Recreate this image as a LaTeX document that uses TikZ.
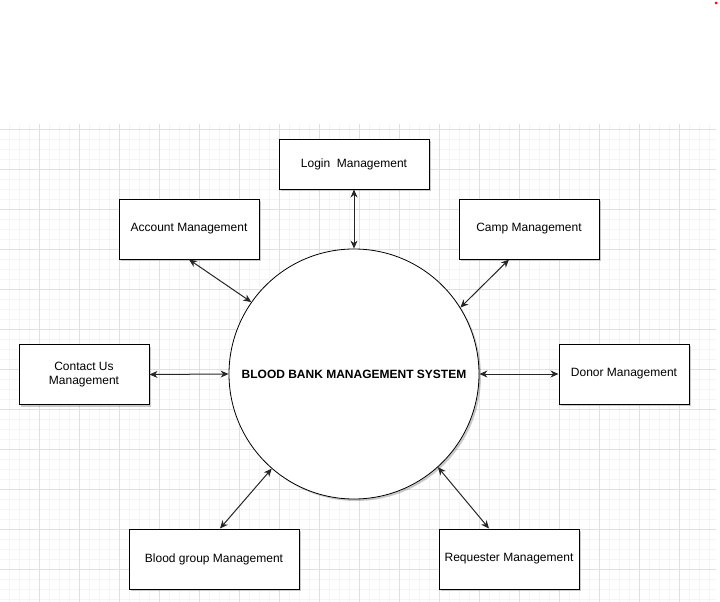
\documentclass[tikz,border=0pt]{standalone}
\usepackage{fontspec}
\setmainfont{Liberation Sans}
\usetikzlibrary{arrows.meta,shadows}
\definecolor{gridminor}{HTML}{F5F5F5}
\definecolor{gridmajor}{HTML}{E0E0E0}
\tikzset{
	module/.style={draw, line width=1pt, fill=white, align=center, inner sep=2pt,
		font=\fontsize{12}{14}\selectfont,
		drop shadow={shadow xshift=2pt, shadow yshift=-2pt, opacity=0.35, fill=black!60}},
	link/.style={line width=1pt, black!85, {Stealth[length=8pt,width=7pt,inset=2.5pt]}-{Stealth[length=8pt,width=7pt,inset=2.5pt]}}
}
\begin{document}
\begin{tikzpicture}[x=1pt, y=-1pt]
			\useasboundingbox (0, 0) rectangle (720, 602);
			%%%%% GRID %%%%%
			\foreach \gx in {9.5, 19.5, ..., 709.5}
				\draw[gridminor, line width=1pt] (\gx, 124) -- (\gx, 602);
			\foreach \gy in {129.5, 139.5, ..., 599.5}
				\draw[gridminor, line width=1pt] (0, \gy) -- (716, \gy);
			\foreach \gx in {39.5, 79.5, ..., 679.5}
				\draw[gridmajor, line width=1pt] (\gx, 124) -- (\gx, 602);
			\foreach \gy in {129.5, 169.5, ..., 569.5}
				\draw[gridmajor, line width=1pt] (0, \gy) -- (716, \gy);
			\fill[red] (716, 3) circle (1.5);
			
			%%%%% START %%%%%
			\node[draw, circle, line width=0.8pt, fill=white, minimum size=250pt, inner sep=0pt,
				font=\bfseries\fontsize{12}{14}\selectfont,
				drop shadow={shadow xshift=2pt, shadow yshift=-2pt, opacity=0.35, fill=black!60}]
				(sys) at (354, 374) {BLOOD BANK MANAGEMENT SYSTEM};
			
			\node[module, minimum width=150pt, minimum height=50pt] (login) at (354, 164) {Login~ Management};
			\node[module, minimum width=140pt, minimum height=60pt] (acct) at (189, 229) {Account Management};
			\node[module, minimum width=140pt, minimum height=60pt] (camp) at (529, 229) {Camp Management};
			\node[module, minimum width=130pt, minimum height=60pt] (contact) at (84, 374.5) {Contact Us\\Management};
			\node[module, minimum width=130pt, minimum height=60pt] (donor) at (624, 374) {Donor Management};
			\node[module, minimum width=170pt, minimum height=60pt] (bgroup) at (214, 559) {Blood group Management};
			\node[module, minimum width=140pt, minimum height=60pt] (req) at (509, 559) {Requester Management};
			
			\draw[link] (login.south) -- (sys.north);
			\draw[link] (acct.south) -- (sys.145);
			\draw[link] ([xshift=-20pt]camp.south) -- (sys.32);
			\draw[link] (contact.east) -- (sys.west);
			\draw[link] (sys.east) -- (donor.west);
			\draw[link] ([xshift=6pt]bgroup.north) -- (sys.229);
			\draw[link] ([xshift=-20pt]req.north) -- (sys.312);
			%%%%% END %%%%%
		\end{tikzpicture}
\end{document}
